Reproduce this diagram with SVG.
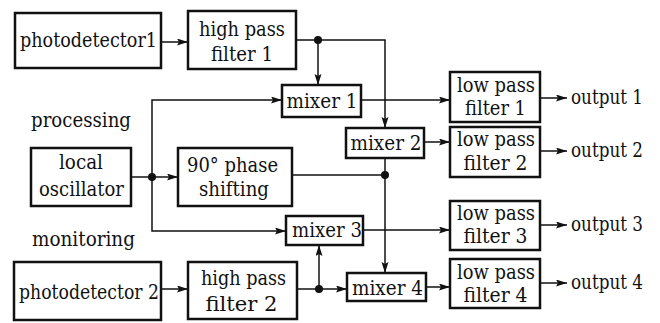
<svg xmlns="http://www.w3.org/2000/svg" width="660" height="323" viewBox="0 0 660 323">
<style>
.box{fill:#fff;stroke:#111;stroke-width:2.5}
.t{text-anchor:middle}
.w{fill:none;stroke:#111;stroke-width:1.5}
.a{fill:none;stroke:#111;stroke-width:1.5;marker-end:url(#arr)}
.dot{fill:#111}
</style>
<defs>
<marker id="arr" markerUnits="userSpaceOnUse" markerWidth="12" markerHeight="8" refX="11" refY="3.5" orient="auto">
<path d="M0,0 L11,3.5 L0,7 L2,3.5 z" fill="#111"/>
</marker>
</defs>
<rect width="660" height="323" fill="#fff"/>

<g id="connectors">
<line class="a" x1="161" y1="42" x2="188" y2="42"/>
<polyline class="a" points="296,40 385,40 385,128"/>
<line class="a" x1="318" y1="40" x2="318" y2="85"/>
<polyline class="a" points="152,177 152,100 282,100"/>
<polyline class="a" points="152,177 152,231 286,231"/>
<line class="a" x1="131" y1="177" x2="178" y2="177"/>
<line class="a" x1="361" y1="100" x2="450" y2="100"/>
<line class="a" x1="424" y1="142" x2="450" y2="142"/>
<line class="w" x1="292" y1="175" x2="385" y2="175"/>
<line class="a" x1="385" y1="158" x2="385" y2="273"/>
<line class="a" x1="363" y1="230" x2="450" y2="230"/>
<line class="a" x1="426" y1="287" x2="450" y2="287"/>
<line class="a" x1="161" y1="289" x2="188" y2="289"/>
<line class="a" x1="297" y1="289" x2="347" y2="289"/>
<line class="a" x1="319" y1="289" x2="319" y2="245"/>
<line class="a" x1="540" y1="98" x2="567" y2="98"/>
<line class="a" x1="540" y1="151" x2="567" y2="151"/>
<line class="a" x1="540" y1="225" x2="567" y2="225"/>
<line class="a" x1="540" y1="283" x2="567" y2="283"/>
<circle class="dot" cx="318" cy="40" r="4"/>
<circle class="dot" cx="152" cy="177" r="4"/>
<circle class="dot" cx="385" cy="175" r="4"/>
<circle class="dot" cx="319" cy="289" r="4"/>
</g>

<g font-family="DejaVu Serif, serif" font-size="20" fill="#111" lengthAdjust="spacingAndGlyphs">
<g id="photodetector1"><rect class="box" x="15" y="13" width="146" height="55"/><text class="t" x="88.5" y="47" textLength="137" lengthAdjust="spacingAndGlyphs">photodetector1</text></g>
<g id="hpf1"><rect class="box" x="188" y="11" width="108" height="58"/><text class="t" x="242" y="36" textLength="86" lengthAdjust="spacingAndGlyphs">high pass</text><text class="t" x="242" y="61" textLength="62" lengthAdjust="spacingAndGlyphs">filter 1</text></g>
<g id="mixer1"><rect class="box" x="282" y="85" width="79" height="32"/><text class="t" x="322" y="108" textLength="71" lengthAdjust="spacingAndGlyphs">mixer 1</text></g>
<g id="mixer2"><rect class="box" x="346" y="128" width="78" height="30"/><text class="t" x="386" y="150" textLength="71" lengthAdjust="spacingAndGlyphs">mixer 2</text></g>
<g id="lpf1"><rect class="box" x="450" y="72" width="90" height="50"/><text class="t" x="496" y="92" textLength="78" lengthAdjust="spacingAndGlyphs">low pass</text><text class="t" x="495.5" y="115" textLength="61" lengthAdjust="spacingAndGlyphs">filter 1</text></g>
<g id="lpf2"><rect class="box" x="450" y="127" width="90" height="50"/><text class="t" x="496" y="146" textLength="78" lengthAdjust="spacingAndGlyphs">low pass</text><text class="t" x="495.5" y="170" textLength="64" lengthAdjust="spacingAndGlyphs">filter 2</text></g>
<g id="processing"><text class="t" x="81" y="127" textLength="100" lengthAdjust="spacingAndGlyphs">processing</text></g>
<g id="local-oscillator"><rect class="box" x="31" y="148" width="100" height="58"/><text class="t" x="81" y="169" textLength="44" lengthAdjust="spacingAndGlyphs">local</text><text class="t" x="81.5" y="196" textLength="85" lengthAdjust="spacingAndGlyphs">oscillator</text></g>
<g id="phase-shifting"><rect class="box" x="178" y="148" width="114" height="58"/><text class="t" x="232.5" y="172" textLength="91" lengthAdjust="spacingAndGlyphs">90° phase</text><text class="t" x="234" y="196" textLength="70" lengthAdjust="spacingAndGlyphs">shifting</text></g>
<g id="mixer3"><rect class="box" x="286" y="216" width="77" height="29"/><text class="t" x="327" y="237" textLength="70" lengthAdjust="spacingAndGlyphs">mixer 3</text></g>
<g id="lpf3"><rect class="box" x="450" y="201" width="90" height="49"/><text class="t" x="496" y="220" textLength="78" lengthAdjust="spacingAndGlyphs">low pass</text><text class="t" x="495.5" y="243" textLength="64" lengthAdjust="spacingAndGlyphs">filter 3</text></g>
<g id="monitoring"><text class="t" x="83.5" y="246" textLength="103" lengthAdjust="spacingAndGlyphs">monitoring</text></g>
<g id="photodetector2"><rect class="box" x="14" y="262" width="147" height="58"/><text class="t" x="89" y="299" textLength="140" lengthAdjust="spacingAndGlyphs">photodetector 2</text></g>
<g id="hpf2"><rect class="box" x="188" y="262" width="109" height="57"/><text class="t" x="243.5" y="285" textLength="85" lengthAdjust="spacingAndGlyphs">high pass</text><text class="t" x="241.5" y="311" textLength="72" lengthAdjust="spacingAndGlyphs">filter  2</text></g>
<g id="mixer4"><rect class="box" x="347" y="273" width="79" height="28"/><text class="t" x="387.5" y="295" textLength="71" lengthAdjust="spacingAndGlyphs">mixer 4</text></g>
<g id="lpf4"><rect class="box" x="450" y="259" width="90" height="49"/><text class="t" x="496" y="279" textLength="78" lengthAdjust="spacingAndGlyphs">low pass</text><text class="t" x="495.5" y="302" textLength="64" lengthAdjust="spacingAndGlyphs">filter 4</text></g>
<g id="outputs">
<text x="571" y="104" textLength="72" lengthAdjust="spacingAndGlyphs">output 1</text>
<text x="571" y="157" textLength="72" lengthAdjust="spacingAndGlyphs">output 2</text>
<text x="571" y="231" textLength="72" lengthAdjust="spacingAndGlyphs">output 3</text>
<text x="571" y="289" textLength="72" lengthAdjust="spacingAndGlyphs">output 4</text>
</g>
</g>
</svg>
